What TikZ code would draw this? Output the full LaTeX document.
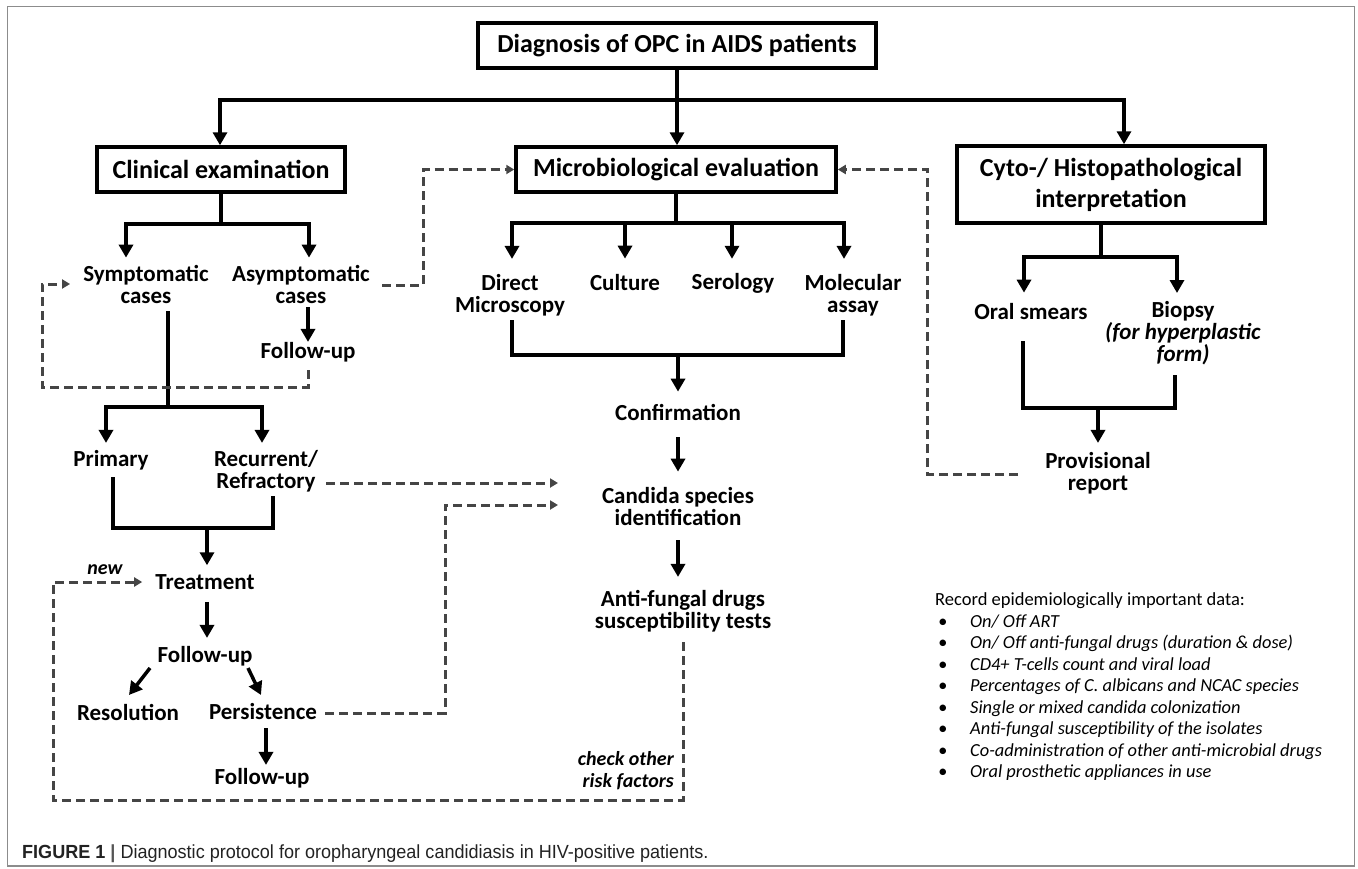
\documentclass[tikz,border=0pt]{standalone}
\usepackage{fontspec}
\usepackage{graphicx}
\setmainfont{Carlito}
\newfontfamily\capfont{Liberation Sans}
\usetikzlibrary{arrows.meta}
\definecolor{dgray}{HTML}{454545}
\definecolor{fgray}{HTML}{8C8C8C}
\definecolor{captxt}{HTML}{222222}
\definecolor{bargray}{HTML}{555555}
\tikzset{
  box/.style={draw, line width=3.5pt, inner sep=0pt, font=\fontsize{26}{31}\selectfont\bfseries, align=center},
  lbl/.style={inner sep=0pt, font=\fontsize{23}{22}\selectfont\bfseries, align=center},
  conn/.style={line width=4pt, line cap=rect, line join=miter},
  arr/.style={line width=4pt, -{Triangle[width=14pt,length=13pt]}},
  dsh/.style={line width=3pt, dgray, dash pattern=on 9pt off 5pt},
  darr/.style={dsh, -{Triangle[width=9pt,length=8pt]}},
  note/.style={inner sep=0pt, font=\fontsize{20}{22}\selectfont\bfseries\itshape, align=right},
  item/.style={inner sep=0pt, anchor=base west, font=\fontsize{18.4}{21}\selectfont\itshape},
}
\begin{document}
\begin{tikzpicture}[x=1pt,y=-1pt]
\useasboundingbox (0,0) rectangle (1358,868);
\draw[fgray, line width=1.5pt] (7.5,6.5) rectangle (1354.5,866);

% boxes
\node[box, minimum width=398pt, minimum height=45pt] (T) at (677,45.5) {Diagnosis of OPC in AIDS patients};
\node[box, minimum width=248pt, minimum height=45pt] (CE) at (221,169.5) {Clinical examination};
\node[box, minimum width=320pt, minimum height=45pt] (ME) at (676,169.5) {Microbiological evaluation};
\node[box, minimum width=308pt, minimum height=77pt] (CH) at (1111,184.5) {Cyto-/ Histopathological\\interpretation};

% labels
\node[lbl] (Sy) at (146,284) {Symptomatic\\cases};
\node[lbl] (As) at (301,284) {Asymptomatic\\cases};
\node[lbl] (FU1) at (308,352) {Follow-up};
\node[lbl] (DM) at (510,295) {Direct\\Microscopy};
\node[lbl] (Cu) at (625,283) {Culture};
\node[lbl] (Se) at (733,283) {Serology};
\node[lbl] (Mo) at (853,295) {Molecular\\assay};
\node[lbl] (OS) at (1031,312) {Oral smears};
\node[lbl] (Bi) at (1183,333) {Biopsy\\\textit{(for hyperplastic}\\\textit{form)}};
\node[lbl] (Pr) at (111,460) {Primary};
\node[lbl] (Rr) at (266,471) {Recurrent/\\Refractory};
\node[lbl] (Co) at (678,412) {Confirmation};
\node[lbl] (Ca) at (678,507) {Candida species\\identification};
\node[lbl] (PR) at (1098,473) {Provisional\\report};
\node[lbl] (Tr) at (205,582) {Treatment};
\node[lbl] (AF) at (683,611) {Anti-fungal drugs\\susceptibility tests};
\node[lbl] (FU2) at (205,656) {Follow-up};
\node[lbl] (Rs) at (128,712) {Resolution};
\node[lbl] (Ps) at (263,712) {Persistence};
\node[lbl] (FU3) at (262,778) {Follow-up};
\node[note] (new) at (105,570) {new};
\node[note, anchor=east] (chk) at (674,771) {check other\\risk factors};

% record list
\node[inner sep=0pt, anchor=base west, font=\fontsize{18.5}{21}\selectfont] (rec) at (935,605) {Record epidemiologically important data:};
\node[item] (i1) at (938,627) {\makebox[32pt][l]{\textbullet}On/ Off ART};
\node[item] (i2) at (938,648.5) {\makebox[32pt][l]{\textbullet}On/ Off anti-fungal drugs (duration \& dose)};
\node[item] (i3) at (938,670) {\makebox[32pt][l]{\textbullet}CD4+ T-cells count and viral load};
\node[item] (i4) at (938,691.5) {\makebox[32pt][l]{\textbullet}Percentages of C. albicans and NCAC species};
\node[item] (i5) at (938,713) {\makebox[32pt][l]{\textbullet}Single or mixed candida colonization};
\node[item] (i6) at (938,734.5) {\makebox[32pt][l]{\textbullet}Anti-fungal susceptibility of the isolates};
\node[item] (i7) at (938,756) {\makebox[32pt][l]{\textbullet}Co-administration of other anti-microbial drugs};
\node[item] (i8) at (938,777.5) {\makebox[32pt][l]{\textbullet}Oral prosthetic appliances in use};

% caption
\node[inner sep=0pt, anchor=base west, text=captxt] (cap) at (22,858) {\scalebox{0.95}[1]{\capfont\fontsize{19}{21}\selectfont\textbf{FIGURE 1 \textcolor{bargray}{|}} Diagnostic protocol for oropharyngeal candidiasis in HIV-positive patients.}};

% top level
\coordinate (b1) at (677,100);
\coordinate (bL) at (220,100);
\coordinate (bR) at (1124,100);
\draw[conn] (T.south) -- (b1);
\draw[conn] (bL) -- (bR);
\draw[arr] (bL) -- (bL |- CE.north);
\draw[arr] (b1) -- (b1 |- ME.north);
\draw[arr] (bR) -- (bR |- CH.north);

% clinical branch
\coordinate (c0) at (221,224);
\coordinate (cL) at (126,224);
\coordinate (cR) at (309,224);
\draw[conn] (CE.south) -- (c0);
\draw[conn] (cL) -- (cR);
\draw[arr, shorten >=7pt] (cL) -- (cL |- Sy.north);
\draw[arr, shorten >=7pt] (cR) -- (cR |- As.north);
\draw[arr, shorten <=4pt] (As.south -| FU1.north) -- (FU1.north);

\coordinate (s0) at (168,407);
\coordinate (sL) at (106,407);
\coordinate (sR) at (262,407);
\draw[conn, shorten <=10pt] (s0 |- Sy.south) -- (s0);
\draw[conn] (sL) -- (sR);
\draw[arr, shorten >=7pt] (sL) -- (sL |- Pr.north);
\draw[arr, shorten >=7pt] (sR) -- (sR |- Rr.north);

\coordinate (p1) at (113,528);
\coordinate (p2) at (273,528);
\coordinate (p0) at (207,528);
\draw[conn, shorten <=9pt, shorten >=6pt] (p1 |- Pr.south) -- (p1) -- (p2) -- (p2 |- Rr.south);
\draw[arr, shorten >=9pt] (p0) -- (p0 |- Tr.north);
\coordinate (t0) at (207,0);
\draw[arr, shorten <=12pt, shorten >=8pt] (t0 |- Tr.south) -- (t0 |- FU2.north);
\coordinate (g1) at (150,668);
\coordinate (g2) at (129,695);
\coordinate (g3) at (248,668);
\coordinate (g4) at (261,695);
\draw[arr, line width=3.5pt] (g1) -- (g2);
\draw[arr, line width=3.5pt] (g3) -- (g4);
\coordinate (f1) at (266,0);
\draw[arr, shorten <=8pt, shorten >=3pt] (f1 |- Ps.south) -- (f1 |- FU3.north);

% microbiology branch
\coordinate (m0) at (676,223);
\coordinate (m1) at (512,223);
\coordinate (m2) at (625,223);
\coordinate (m3) at (732,223);
\coordinate (m4) at (844,223);
\draw[conn] (ME.south) -- (m0);
\draw[conn] (m1) -- (m4);
\draw[arr, shorten >=15pt] (m1) -- (m1 |- DM.north);
\draw[arr, shorten >=16pt] (m2) -- (m2 |- Cu.north);
\draw[arr, shorten >=14pt] (m3) -- (m3 |- Se.north);
\draw[arr, shorten >=15pt] (m4) -- (m4 |- Mo.north);

\coordinate (u1) at (512,355);
\coordinate (u2) at (843,355);
\coordinate (u0) at (678,355);
\draw[conn, shorten <=6pt, shorten >=6pt] (u1 |- DM.south) -- (u1) -- (u2) -- (u2 |- Mo.south);
\draw[arr, shorten >=12pt] (u0) -- (u0 |- Co.north);
\draw[arr, shorten <=17pt, shorten >=16pt] (Co.south) -- (Ca.north);
\draw[arr, shorten <=14pt, shorten >=13pt] (Ca.south) -- (Ca.south |- AF.north);

% cyto branch
\coordinate (h0) at (1101,257);
\coordinate (hL) at (1024,257);
\coordinate (hR) at (1177,257);
\draw[conn] (CH.south -| h0) -- (h0);
\draw[conn] (hL) -- (hR);
\draw[arr, shorten >=11pt] (hL) -- (hL |- OS.north);
\draw[arr, shorten >=8pt] (hR) -- (hR |- Bi.north);
\coordinate (o1) at (1023,408);
\coordinate (o2) at (1175,408);
\coordinate (o0) at (1098,408);
\draw[conn, shorten <=23pt, shorten >=12pt] (o1 |- OS.south) -- (o1) -- (o2) -- (o2 |- Bi.south);
\draw[arr, shorten >=9pt] (o0) -- (o0 |- PR.north);

% dashed feedback lines
\coordinate (d1) at (423,285);
\draw[darr, shorten <=12pt] (As.east |- d1) -- (d1) |- (ME.west);
\coordinate (lp) at (42,387);
\draw[darr, shorten <=8pt, shorten >=13pt] (FU1.south) |- (lp) |- (Sy.west);
\coordinate (ca1) at (558,483);
\draw[darr, shorten <=8pt] (Rr.east |- ca1) -- (ca1);
\coordinate (k4) at (445,713);
\coordinate (ca2) at (558,505);
\draw[darr, shorten <=8pt] (Ps.east |- k4) -- (k4) |- (ca2);
\coordinate (q2) at (53,800);
\draw[darr, shorten <=10pt, shorten >=13pt] (AF.south) |- (q2) |- (Tr.west);
\coordinate (k6) at (927,474);
\draw[darr, shorten <=27pt] (PR.west |- k6) -- (k6) |- (ME.east);
\end{tikzpicture}
\end{document}
